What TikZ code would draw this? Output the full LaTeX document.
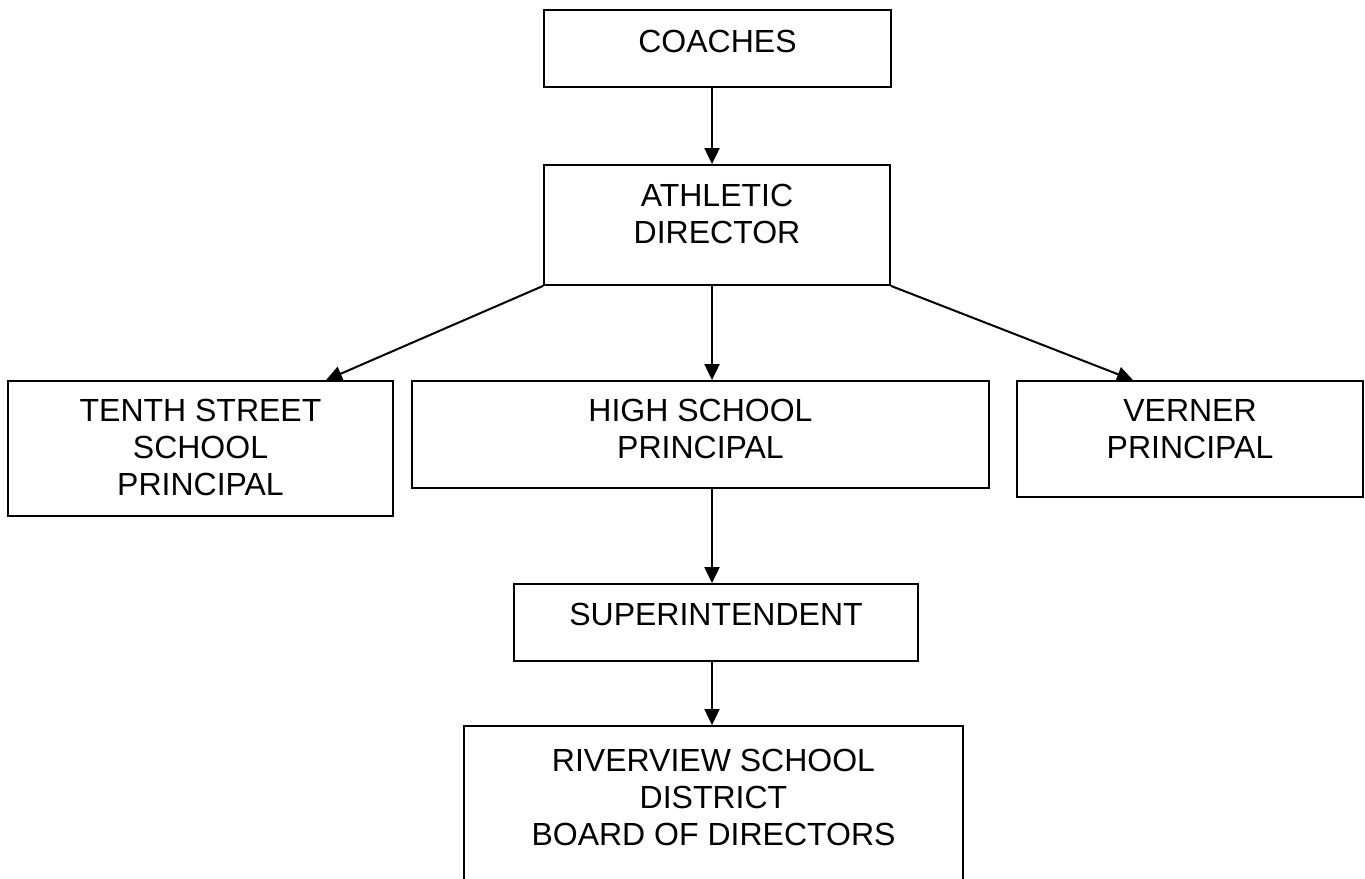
\documentclass[tikz,border=0pt]{standalone}
\usepackage{fontspec}
\setmainfont{Liberation Sans}
\usetikzlibrary{arrows.meta,calc}
\begin{document}
\begin{tikzpicture}[x=1pt,y=-1pt,
  box/.style={draw, line width=1.8pt, inner sep=0pt, minimum width=#1},
  txt/.style={anchor=base, align=center, inner sep=0pt, font=\fontsize{32}{36.6}\selectfont},
  conn/.style={line width=2pt, -{Triangle[length=16pt,width=15pt]}}]
\useasboundingbox (0,0) rectangle (1365,878);
\clip (0,0) rectangle (1365,878);
% boxes
\node[box=347, minimum height=77] (coaches) at (717.5,48.5) {};
\node[box=346, minimum height=120] (ad) at (717,225) {};
\node[box=385, minimum height=135] (tenth) at (200.5,448.5) {};
\node[box=577, minimum height=107] (hs) at (700.5,434.5) {};
\node[box=346, minimum height=116] (verner) at (1190,439) {};
\node[box=404, minimum height=77] (super) at (716,622.5) {};
\node[box=499, minimum height=180] (river) at (713.5,816) {};
% texts (anchored at the baseline of the last line)
\node[txt] (coachesT) at (717.5,52) {COACHES};
\node[txt] (adT) at (717,243) {ATHLETIC\\DIRECTOR};
\node[txt] (tenthT) at (200.5,495) {TENTH STREET\\SCHOOL\\PRINCIPAL};
\node[txt] (hsT) at (700.5,458) {HIGH SCHOOL\\PRINCIPAL};
\node[txt] (vernerT) at (1190,458) {VERNER\\PRINCIPAL};
\node[txt] (superT) at (716,625) {SUPERINTENDENT};
\node[txt] (riverT) at (713.5,845) {RIVERVIEW SCHOOL\\DISTRICT\\BOARD OF DIRECTORS};
% connectors
\draw[conn] (coaches.south -| 712,0) -- (ad.north -| 712,0);
\draw[conn] (ad.south west) -- (tenth.north -| 326,0);
\draw[conn] (ad.south -| 712,0) -- (hs.north -| 712,0);
\draw[conn] (ad.south east) -- (verner.north -| 1133,0);
\draw[conn] (hs.south -| 712,0) -- (super.north -| 712,0);
\draw[conn] (super.south -| 712,0) -- (river.north -| 712,0);
\end{tikzpicture}
\end{document}
